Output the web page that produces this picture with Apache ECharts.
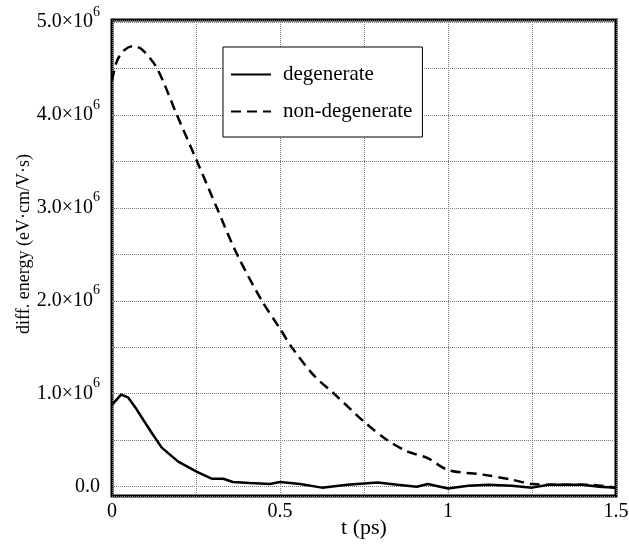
<!DOCTYPE html>
<html>
	<head>
		<meta charset="UTF-8">
		<title>diff. energy</title>
		<style type="text/css">
			html,body{margin:0;padding:0;background:#fff;}
			#main{width:629px;height:544px;}
		</style>
	</head>
	<body>
		<div id="main"></div>
		<script src="https://cdn.jsdelivr.net/npm/echarts@6/dist/echarts.min.js" type="text/javascript" charset="utf-8"></script>
		<script type="text/javascript">
			// values in units of 10^6 eV·cm/V·s, t in ps
			var tDegenerate = [0, 0.027, 0.048, 0.07, 0.093, 0.12, 0.148, 0.197, 0.253, 0.298, 0.331, 0.36, 0.41, 0.47, 0.5, 0.56, 0.625, 0.7, 0.79, 0.85, 0.907, 0.94, 1.0, 1.06, 1.12, 1.19, 1.25, 1.3, 1.35, 1.4, 1.45, 1.5];
			var degenerate = [0.88, 0.99, 0.96, 0.85, 0.72, 0.57, 0.42, 0.27, 0.16, 0.085, 0.085, 0.05, 0.04, 0.03, 0.05, 0.03, -0.01, 0.02, 0.045, 0.02, 0.0, 0.03, -0.02, 0.01, 0.02, 0.01, -0.01, 0.02, 0.02, 0.02, 0.0, -0.01];
			var tNonDegenerate = [0, 0.015, 0.035, 0.0625, 0.09, 0.134, 0.193, 0.253, 0.312, 0.372, 0.446, 0.5, 0.535, 0.6, 0.664, 0.753, 0.818, 0.878, 0.938, 1.0, 1.105, 1.19, 1.25, 1.35, 1.42, 1.5];
			var nonDegenerate = [4.37, 4.58, 4.69, 4.74, 4.7, 4.5, 4.0, 3.5, 3.0, 2.5, 2.0, 1.7, 1.5, 1.2, 0.99, 0.69, 0.505, 0.38, 0.31, 0.18, 0.13, 0.075, 0.03, 0.02, 0.02, -0.01];
			var xTickLabels = {0: '0', 0.5: '0.5', 1: '1', 1.5: '1.5'};
			var yTickLabels = {0: '0.0', 1: '1.0', 2: '2.0', 3: '3.0', 4: '4.0', 5: '5.0'};

			function pairs(xs, ys){
				var out = [];
				for(var i = 0; i < xs.length; i++){ out.push([xs[i], ys[i]]); }
				return out;
			}

			var serif = '"Liberation Serif", "DejaVu Serif", serif';
			var myChart = echarts.init(document.getElementById("main"));
			var option = {
				animation:false,
				grid:{
					left:112, right:13, top:20, bottom:48,
					outerBoundsMode:'none', containLabel:false,
					show:true, borderColor:'#000', borderWidth:3
				},
				legend:{
					orient:'vertical',
					left:223, top:47,
					padding:[17, 10, 15, 7],
					itemGap:16,
					itemWidth:40, itemHeight:14,
					backgroundColor:'#fff',
					borderColor:'#000', borderWidth:1,
					itemStyle:{opacity:0},
					textStyle:{fontFamily:serif, fontSize:21, lineHeight:21, color:'#000', padding:[0,0,0,7]},
					data:['degenerate', 'non-degenerate']
				},
				xAxis:{
					type:'value', min:0, max:1.5, interval:0.25,
					name:'t (ps)', nameLocation:'middle', nameGap:21, nameMoveOverlap:false,
					nameTextStyle:{fontFamily:serif, fontSize:22, color:'#000'},
					axisLine:{show:false}, axisTick:{show:false},
					axisLabel:{
						fontFamily:serif, fontSize:20, color:'#000', margin:6,
						formatter:function(v){ return xTickLabels[v] !== undefined ? xTickLabels[v] : ''; }
					},
					splitLine:{lineStyle:{color:'#777', type:[1,1], width:1}}
				},
				yAxis:{
					type:'value', min:-0.1, max:5.02, splitNumber:10,
					name:'diff. energy (eV·cm/V·s)', nameLocation:'middle', nameGap:79, nameMoveOverlap:false,
					nameTextStyle:{fontFamily:serif, fontSize:18, color:'#000', padding:[0,0,0,28]},
					axisLine:{show:false}, axisTick:{show:false},
					axisLabel:{
						fontFamily:serif, fontSize:20, color:'#000', margin:12,
						formatter:function(v){
							var k = Math.round(v * 10) / 10;
							if(yTickLabels[k] === undefined || Math.abs(v - k) > 1e-6) return '';
							if(k === 0) return '{a|0.0}';
							return '{a|' + yTickLabels[k] + '×10}{s|6}';
						},
						rich:{
							a:{fontFamily:serif, fontSize:20, color:'#000'},
							s:{fontFamily:serif, fontSize:14, color:'#000', padding:[0,0,20,0]}
						}
					},
					splitLine:{lineStyle:{color:'#777', type:[1,1], width:1}}
				},
				series:[{
					name:'degenerate', type:'line', symbol:'none',
					data:pairs(tDegenerate, degenerate),
					lineStyle:{color:'#000', width:2.5},
					itemStyle:{color:'#000'}
				},{
					name:'non-degenerate', type:'line', symbol:'none', smooth:0.3,
					data:pairs(tNonDegenerate, nonDegenerate),
					lineStyle:{color:'#000', width:2.5, type:[10,6]},
					itemStyle:{color:'#000'}
				}]
			};
			myChart.setOption(option);
		</script>
	</body>
</html>
